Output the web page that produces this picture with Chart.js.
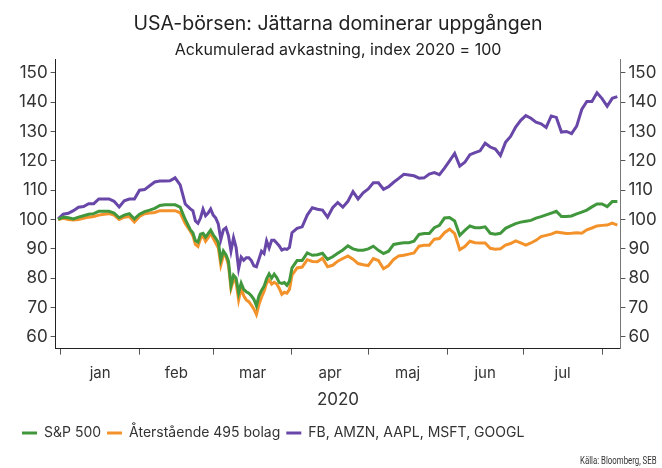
<!DOCTYPE html>
<html>
<head>
<meta charset="utf-8">
<script src="https://cdn.jsdelivr.net/npm/chart.js@4.4.1/dist/chart.umd.min.js"></script>
<style>
  html, body { margin: 0; padding: 0; background: #fff; }
  #wrap { position: relative; width: 662px; height: 468px; }
  #source {
    position: absolute; right: 5px; bottom: 1px;
    font-family: Roboto, sans-serif;
    font-size: 11.5px; color: #333;
    transform: scaleX(0.68); transform-origin: right bottom;
    white-space: nowrap;
  }
</style>
</head>
<body>
<div id="wrap">
  <canvas id="chart" width="662" height="468"></canvas>
  <div id="source">Källa: Bloomberg, SEB</div>
</div>
<script>
// day of year 2020 (0 = 1 jan), index 2020 = 100
const days = [-1, 1, 3, 5, 7, 9, 11, 13, 15, 17, 19, 21, 23, 25, 27, 29, 31, 33, 35, 37, 39, 41, 43, 45, 47, 49, 51,
  52, 53, 54, 55, 56, 57, 58, 59, 60, 61, 62, 63, 64, 65, 66, 67, 68, 69, 70, 71, 72, 73, 74, 75, 76, 77, 78, 79, 80,
  81, 82, 83, 84, 85, 86, 87, 88, 89, 90, 91,
  93, 95, 97, 99, 101, 103, 105, 107, 109, 111, 113, 115, 117, 119, 121, 123, 125, 127, 129, 131, 133, 135, 137, 139,
  141, 143, 145, 147, 149, 151, 153, 155, 157, 159, 161, 163, 165, 167, 169, 171, 173, 175, 177, 179, 181, 183, 185,
  187, 189, 191, 193, 195, 197, 199, 201, 203, 205, 207, 209, 211, 213, 215, 217, 219];

const sp500 = [100, 100.8, 100.6, 100.2, 100.8, 101.3, 101.8, 102, 102.8, 102.8, 102.8, 102.2, 100.6, 101.5, 102, 100.2,
  101.8, 102.7, 103.2, 103.8, 104.8, 105, 105, 105, 104.2, 100, 96.5,
  95.5, 92.8, 92.3, 95, 95.3, 94, 95.2, 96.4, 94.8, 93.6, 92.2, 86.3, 89.3, 88, 85.8, 77.5, 81, 80, 75, 78.3, 76.2,
  75.4, 74.9, 74, 72.8, 70.6, 74, 75.8, 77.2, 79.8, 81.5, 80, 81.4, 80.2, 78.5, 78.2, 78.5, 77.6, 79, 83.5,
  86, 86, 88.6, 87.8, 88, 88.5, 86.4, 87.3, 88.5, 89.6, 91, 90, 89.5, 89.5, 90, 90.9, 89.5, 88.4, 89.2, 91.5, 91.8,
  92.1, 92.1, 92.6, 94.9, 95.2, 95.2, 97.2, 98, 100.5, 100.7, 99.5, 94.6, 96.3, 97.8, 97.2, 97.2, 97.5, 95.3, 95,
  95.3, 97, 97.8, 98.6, 99.1, 99.4, 99.7, 100.5, 101, 101.6, 102.2, 102.8, 101, 101, 101.2, 101.9, 102.5, 103.2,
  104.3, 105.3, 105.3, 104.4, 106.1, 106.1];

const rest495 = [100, 100.4, 100, 99.8, 100, 100.4, 100.8, 101, 101.5, 101.8, 102, 101.5, 100, 100.8, 101, 99.1,
  101, 102, 102.2, 102.4, 103, 103, 103, 103, 102.3, 98.6, 96,
  94.5, 91.5, 90.8, 93.5, 94.5, 92.6, 93.8, 95.3, 93.6, 92, 90.4, 84.5, 87.8, 87.5, 84.5, 76.5, 79.5, 78.5, 72.6,
  76.6, 74, 72.6, 72, 70.8, 69.5, 67.6, 71, 73.5, 75.5, 78.3, 79.4, 78, 78.6, 78, 76.5, 74.5, 75.2, 74.9, 76.2, 81,
  83.5, 83.8, 86.3, 85.7, 85.6, 86.8, 83.9, 84.4, 85.8, 86.7, 87.6, 86.5, 85, 84.6, 84.3, 86.7, 86, 83.2, 84.3,
  86.4, 87.6, 87.8, 88.2, 88.6, 90.9, 91.2, 91.2, 93.3, 93.5, 95.5, 96.7, 95.2, 89.7, 90.8, 92.6, 92.1, 92, 92,
  90.2, 89.9, 90, 91.3, 91.8, 92.7, 92, 91.3, 92, 92.9, 94.2, 94.6, 95, 95.7, 95.5, 95.2, 95.3, 95.5, 95.3, 96.5,
  97.1, 97.8, 98, 98.1, 98.8, 98.1];

const big5 = [100.2, 101.8, 102.1, 103, 104.2, 104.4, 105.4, 105.4, 107, 107, 107, 106.2, 104.3, 106.4, 107, 107,
  110, 110.2, 111.5, 112.8, 113.1, 113.1, 113.2, 114.2, 111.8, 105.3, 103.6,
  103, 99.5, 98.7, 100.5, 103.5, 101.3, 102.2, 103.6, 101.5, 100.5, 98.5, 93.2, 96.5, 97.2, 94.5, 89.3, 93.8, 90.5,
  83.3, 87.2, 86.1, 87, 87, 86, 84.2, 83.9, 86.5, 89.2, 88.4, 92.7, 90.3, 92.9, 92.9, 92, 91, 89.6, 90, 89.8, 90.5,
  95.5,
  97, 97.5, 101.5, 104, 103.5, 103.2, 100.8, 104, 105.8, 104.2, 106.2, 109.5, 107, 109.1, 110.4, 112.5, 112.5, 110.3,
  111.2, 112.7, 114, 115.4, 115.2, 114.9, 114.1, 114.2, 115.5, 116, 115.3, 117.5, 120, 122.5, 118.2, 119.5, 122.1,
  122.8, 123.4, 126, 124.7, 124, 121.8, 126.3, 128.3, 131.5, 133.8, 135.4, 134.5, 133.2, 132.6, 131.4, 135.3, 134.8,
  129.8, 130, 129.3, 131.8, 137.5, 140.2, 140.2, 143.2, 141.2, 138.6, 141.3, 141.9];

const seriesNames = ['S&P 500', 'Återstående 495 bolag', 'FB, AMZN, AAPL, MSFT, GOOGL'];
const seriesColors = ['#41983c', '#f3922a', '#6847a8'];

const monthStarts = [0, 31, 60, 91, 121, 152, 182, 213];
const monthNames = ['jan', 'feb', 'mar', 'apr', 'maj', 'jun', 'jul'];
const yTicks = [60, 70, 80, 90, 100, 110, 120, 130, 140, 150];

const monthMids = monthNames.map((m, i) => (monthStarts[i] + monthStarts[i + 1]) / 2);

function toPoints(values) {
  return values.map((v, i) => ({ x: days[i], y: v }));
}

const font = 'Inter, "Noto Sans", sans-serif';
const textColor = '#333';

const yAxis = (position) => ({
  type: 'linear',
  position: position,
  min: 56,
  max: 154.5,
  afterBuildTicks: axis => { axis.ticks = yTicks.map(v => ({ value: v })); },
  grid: { display: true, drawOnChartArea: false, drawTicks: true, tickLength: 5, color: '#555' },
  border: { display: true, color: position === 'left' ? '#222' : '#777', width: 1 },
  ticks: { color: textColor, font: { family: font, size: 17 }, padding: 3 }
});

new Chart(document.getElementById('chart').getContext('2d'), {
  type: 'line',
  data: {
    datasets: [sp500, rest495, big5].map((vals, i) => ({
      label: seriesNames[i],
      data: toPoints(vals),
      borderColor: seriesColors[i],
      backgroundColor: seriesColors[i],
      borderWidth: 3,
      pointRadius: 0,
      tension: 0,
      fill: false
    }))
  },
  options: {
    responsive: false,
    animation: false,
    layout: { padding: { left: 16, right: 2, top: 0, bottom: 18 } },
    plugins: {
      title: {
        display: true,
        text: 'USA-börsen: Jättarna dominerar uppgången',
        color: '#222',
        font: { family: font, size: 19.5, weight: 'normal' },
        padding: { top: 12, bottom: 5 }
      },
      subtitle: {
        display: true,
        text: 'Ackumulerad avkastning, index 2020 = 100',
        color: '#222',
        font: { family: font, size: 16, weight: 'normal' },
        padding: { bottom: 0 }
      },
      legend: {
        position: 'bottom',
        align: 'start',
        labels: {
          color: textColor,
          font: { family: font, size: 14 },
          boxWidth: 15,
          boxHeight: 3,
          padding: 6,
          generateLabels: chart => Chart.defaults.plugins.legend.labels.generateLabels(chart)
            .map(l => Object.assign(l, { lineWidth: 0, fillStyle: l.strokeStyle }))
        }
      },
      tooltip: { enabled: false }
    },
    scales: {
      x: {
        type: 'linear',
        min: -2,
        max: 220.2,
        afterBuildTicks: axis => {
          axis.ticks = monthStarts.map(v => ({ value: v }))
            .concat(monthMids.map(v => ({ value: v })))
            .sort((a, b) => a.value - b.value);
        },
        grid: {
          display: true,
          drawOnChartArea: false,
          drawTicks: true,
          tickLength: 6,
          tickColor: ctx => monthStarts.includes(ctx.tick && ctx.tick.value) ? '#555' : 'rgba(0,0,0,0)'
        },
        border: { display: true, color: '#222' },
        ticks: {
          autoSkip: false,
          maxRotation: 0,
          color: textColor,
          font: { family: font, size: 15 },
          padding: 10,
          callback: v => {
            const i = monthMids.indexOf(v);
            return i >= 0 ? monthNames[i] : '';
          }
        },
        title: {
          display: true,
          text: '2020',
          color: textColor,
          font: { family: font, size: 17 },
          padding: { top: -3, bottom: 10 }
        }
      },
      y: yAxis('left'),
      y2: yAxis('right')
    }
  }
});
</script>
</body>
</html>
